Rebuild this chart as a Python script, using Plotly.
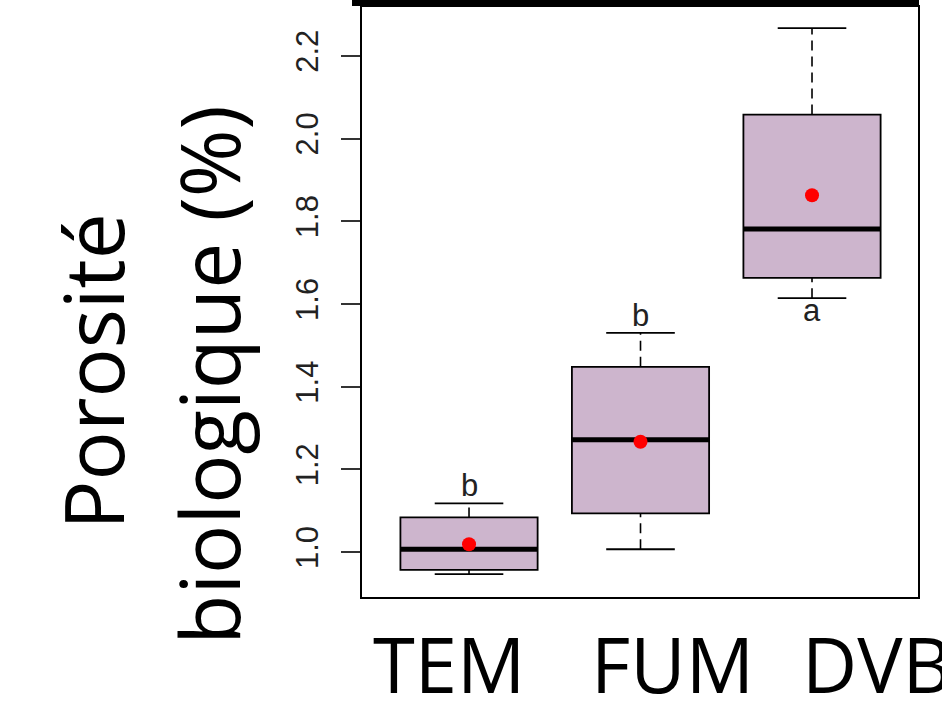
import plotly.graph_objects as go

# ---- data ----
groups = ["TEM", "FUM", "DVB"]
xpos = [1, 2, 3]
q1 = [0.957, 1.094, 1.663]
median = [1.007, 1.272, 1.781]
q3 = [1.084, 1.448, 2.058]
whisk_lo = [0.947, 1.007, 1.614]
whisk_hi = [1.118, 1.530, 2.267]
means = [1.019, 1.267, 1.863]
letters = ["b", "b", "a"]
letter_pos = ["above", "above", "below"]
yticks = [1.0, 1.2, 1.4, 1.6, 1.8, 2.0, 2.2]
ytick_text = ["1.0", "1.2", "1.4", "1.6", "1.8", "2.0", "2.2"]
y_title_lines = ["Porosité", "biologique (%)"]

BOXW = 0.8
CAPW = 0.4
FILL = "#CDB5CD"

W, H = 942, 701
ML, MR, MT, MB = 362, 24, 5, 104
PW, PH = W - ML - MR, H - MT - MB


def px_x(p):
    return (p - ML) / PW


def px_y(p):
    return (H - MB - p) / PH


fig = go.Figure()

# boxes (whiskers drawn separately in R style)
fig.add_trace(go.Box(
    x=xpos, q1=q1, median=median, q3=q3,
    lowerfence=q1, upperfence=q3,
    width=BOXW, fillcolor=FILL,
    line=dict(color="black", width=1.8),
    boxpoints=False, hoverinfo="skip", showlegend=False,
))

# dashed whiskers
wx, wy = [], []
for x, lo, a, b, hi in zip(xpos, whisk_lo, q1, q3, whisk_hi):
    wx += [x, x, None, x, x, None]
    wy += [b, hi, None, lo, a, None]
fig.add_trace(go.Scatter(x=wx, y=wy, mode="lines",
                         line=dict(color="black", width=1.6, dash="10px,6px"),
                         hoverinfo="skip", showlegend=False))

# staples
cx, cy = [], []
for x, lo, hi in zip(xpos, whisk_lo, whisk_hi):
    cx += [x - CAPW / 2, x + CAPW / 2, None, x - CAPW / 2, x + CAPW / 2, None]
    cy += [hi, hi, None, lo, lo, None]
fig.add_trace(go.Scatter(x=cx, y=cy, mode="lines",
                         line=dict(color="black", width=1.8),
                         hoverinfo="skip", showlegend=False))

# medians (thick)
mx, my = [], []
for x, m in zip(xpos, median):
    mx += [x - BOXW / 2, x + BOXW / 2, None]
    my += [m, m, None]
fig.add_trace(go.Scatter(x=mx, y=my, mode="lines",
                         line=dict(color="black", width=5),
                         hoverinfo="skip", showlegend=False))

# means
fig.add_trace(go.Scatter(x=xpos, y=means, mode="markers",
                         marker=dict(color="red", size=14),
                         hoverinfo="skip", showlegend=False))

annotations = []
# significance letters
for x, lt, pos, lo, hi in zip(xpos, letters, letter_pos, whisk_lo, whisk_hi):
    if pos == "above":
        annotations.append(dict(x=x, y=hi, xref="x", yref="y", text=lt,
                                showarrow=False, yanchor="bottom", yshift=-2,
                                font=dict(family="Liberation Sans, Arial", size=31, color="#222")))
    else:
        annotations.append(dict(x=x, y=lo, xref="x", yref="y", text=lt,
                                showarrow=False, yanchor="top", yshift=7,
                                font=dict(family="Liberation Sans, Arial", size=31, color="#222")))

# big group labels
label_px = [449, 672, 877]
for g, p in zip(groups, label_px):
    annotations.append(dict(x=px_x(p), y=px_y(664), xref="paper", yref="paper",
                            text=g, showarrow=False, xanchor="center", yanchor="middle",
                            font=dict(family="Open Sans", size=76, color="black")))

# y title (two lines)
for t, (xc, yc) in zip(y_title_lines, [(92, 371), (208, 375)]):
    annotations.append(dict(x=px_x(xc), y=px_y(yc), xref="paper", yref="paper",
                            text=t, textangle=-90, showarrow=False,
                            xanchor="center", yanchor="middle",
                            font=dict(family="Open Sans", size=82, color="black")))

fig.update_layout(
    width=W, height=H,
    margin=dict(l=ML, r=MR, t=MT, b=MB, pad=0),
    paper_bgcolor="white", plot_bgcolor="white",
    showlegend=False,
    annotations=annotations,
    shapes=[dict(type="rect", xref="paper", yref="paper",
                 x0=px_x(352), x1=px_x(919), y0=px_y(4), y1=px_y(-2),
                 fillcolor="black", line=dict(width=0))],
    xaxis=dict(range=[0.376, 3.618], showticklabels=False, ticks="",
               showgrid=False, zeroline=False,
               showline=True, mirror=True, linecolor="black", linewidth=2),
    yaxis=dict(range=[0.8916, 2.318], tickmode="array", tickvals=yticks,
               ticktext=ytick_text, tickangle=-90,
               ticks="outside", ticklen=19, tickwidth=2, tickcolor="#333",
               ticklabelstandoff=11,
               tickfont=dict(family="Liberation Sans, Arial", size=31, color="#222"),
               showgrid=False, zeroline=False,
               showline=True, mirror=True, linecolor="black", linewidth=2),
)

fig.write_html("out.html")
